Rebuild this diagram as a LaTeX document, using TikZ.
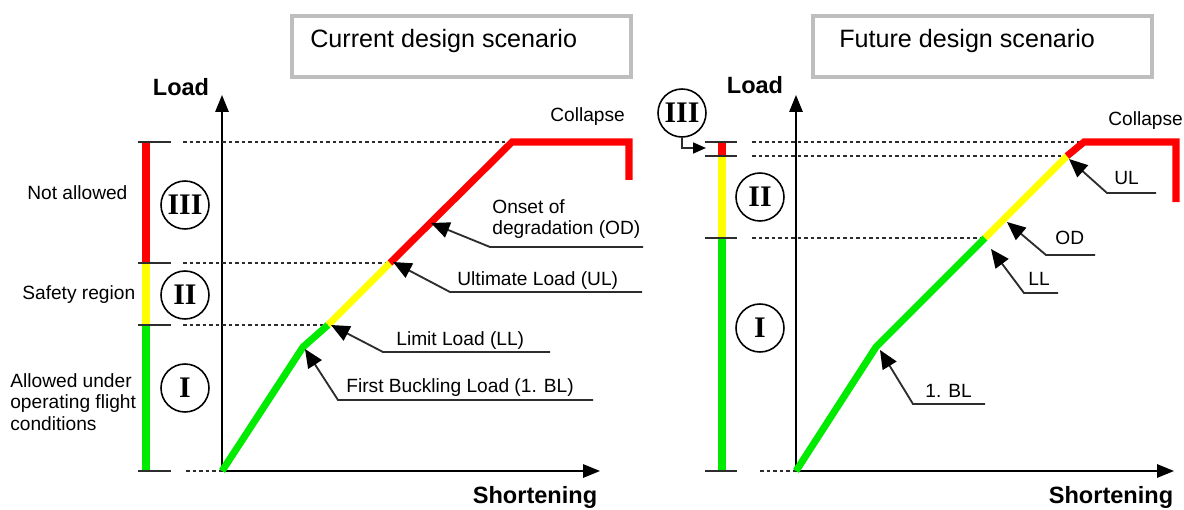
\documentclass[tikz,border=0pt]{standalone}
\usepackage{fontspec}
\setmainfont{Liberation Sans}
\newfontfamily\romfont{Liberation Serif}
\usetikzlibrary{arrows.meta}
\definecolor{cRed}{RGB}{255,0,0}
\definecolor{cYel}{RGB}{255,255,0}
\definecolor{cGrn}{RGB}{0,235,0}
\definecolor{boxgray}{RGB}{190,190,190}
\definecolor{dk}{RGB}{45,45,45}
\tikzset{
 lbl/.style={inner sep=0pt, font=\fontsize{10.9pt}{12.4pt}\selectfont, text=black},
 ttl/.style={inner sep=0pt, font=\fontsize{14.3pt}{16pt}\selectfont},
 axlbl/.style={inner sep=0pt, font=\fontsize{13.4pt}{15pt}\selectfont\bfseries},
 rom/.style={draw=black, line width=0.9pt, circle, minimum size=0.96cm, inner sep=0pt, font=\fontsize{17pt}{17pt}\romfont\bfseries},
 axisarr/.style={line width=0.85pt, black, -{Triangle[length=0.34cm,width=0.27cm]}},
 dline/.style={line width=0.7pt, dk, dash pattern=on 2.2pt off 1.5pt},
 tickmk/.style={line width=1.1pt, dk},
 barseg/.style={line width=4.4pt},
 curveseg/.style={line width=4pt, line join=round},
 callout/.style={line width=1.05pt, dk, -{Triangle[length=0.37cm,width=0.32cm,color=black]}},
 smallarr/.style={line width=0.9pt, dk, -{Triangle[length=0.26cm,width=0.22cm,color=black]}},
 tbox/.style={draw=boxgray, line width=2.2pt, minimum width=6.78cm, minimum height=1.22cm, inner sep=0pt},
}
\begin{document}
\begin{tikzpicture}[x=0.02cm, y=-0.02cm]
\useasboundingbox[fill=white] (0,0) rectangle (1184,510);

%================ LEFT PANEL =================
\node[tbox, anchor=north west] (box1) at (290,14) {};
\node[ttl, anchor=base west] (t1) at (310,48) {Current design scenario};

\coordinate (LO) at (222,471);
\coordinate (LYt) at (222,95);
\coordinate (LXt) at (600,471);
\draw[axisarr] (LO) -- (LYt);
\draw[axisarr] (LO) -- (LXt);
\node[axlbl] (loadL) at (181,87) {Load};
\node[axlbl] (shortL) at (535,497) {Shortening};

% curve points
\coordinate (L1) at (303,347);
\coordinate (L2) at (328,325);
\coordinate (L3) at (390,263);
\coordinate (L4) at (512,142);
\coordinate (L5) at (629,142);
\coordinate (L6) at (629,180);

% dashed guides
\coordinate (Ld0) at (183,142);
\coordinate (Ld1) at (183,263);
\coordinate (Ld2) at (183,325);
\coordinate (Ld3) at (186,471);
\draw[dline] (Ld0) -- (L4);
\draw[dline] (Ld1) -- (L3);
\draw[dline] (Ld2) -- (L2);
\draw[dline] (Ld3) -- (LO);

% bar
\coordinate (Lb0) at (146,142);
\coordinate (Lb1) at (146,263);
\coordinate (Lb2) at (146,325);
\coordinate (Lb3) at (146,471);
\draw[barseg, cRed] (Lb0) -- (Lb1);
\draw[barseg, cYel] (Lb1) -- (Lb2);
\draw[barseg, cGrn] (Lb2) -- (Lb3);
\foreach \yy in {142,263,325,471} \draw[tickmk] (138,\yy) -- (171,\yy);

% curve
\draw[curveseg, cGrn] (LO) -- (L1) -- (L2);
\draw[curveseg, cYel] (L2) -- (L3);
\draw[curveseg, cRed, line join=miter] (L3) -- (L4) -- (L5) -- (L6);

\node[lbl, anchor=west] (colL) at (550,117) {Collapse};

% circles
\node[rom] (c3L) at (185,205) {III};
\node[rom] (c2L) at (185,295) {II};
\node[rom] (c1L) at (185,388) {I};

% left texts
\node[lbl, anchor=west] (na) at (27,193) {Not allowed};
\node[lbl, anchor=west] (sr) at (22,295) {Safety region};
\node[lbl, anchor=west, align=left] (au) at (10,402) {Allowed under\\operating flight\\conditions};

% callouts
\node[lbl, anchor=west, align=left] (odT) at (492,219) {Onset of\\degradation (OD)};
\coordinate (odA) at (490,247);
\coordinate (odB) at (643,247);
\coordinate (odTip) at (431,223);
\draw[callout] (odB) -- (odA) -- (odTip);

\node[lbl, anchor=base west] (ulT) at (457,285) {Ultimate Load (UL)};
\coordinate (ulA) at (450,292);
\coordinate (ulB) at (642,292);
\coordinate (ulTip) at (393,262);
\draw[callout] (ulB) -- (ulA) -- (ulTip);

\node[lbl, anchor=base west] (llT) at (396,345) {Limit Load (LL)};
\coordinate (llA) at (383,352);
\coordinate (llB) at (550,352);
\coordinate (llTip) at (331,325);
\draw[callout] (llB) -- (llA) -- (llTip);

\node[lbl, anchor=base west] (blT) at (346,392) {First Buckling Load (1. BL)};
\coordinate (blA) at (338,400);
\coordinate (blB) at (593,400);
\coordinate (blTip) at (305,349);
\draw[callout] (blB) -- (blA) -- (blTip);

%================ RIGHT PANEL =================
\node[tbox, anchor=north west] (box2) at (811,14) {};
\node[ttl, anchor=base west] (t2) at (839,48) {Future design scenario};

\coordinate (RO) at (796,471);
\coordinate (RYt) at (796,95);
\coordinate (RXt) at (1174,471);
\draw[axisarr] (RO) -- (RYt);
\draw[axisarr] (RO) -- (RXt);
\node[axlbl] (loadR) at (755,85) {Load};
\node[axlbl] (shortR) at (1111,497) {Shortening};

\coordinate (R1) at (876,347);
\coordinate (R2) at (985,238);
\coordinate (R3) at (1067,156);
\coordinate (R4) at (1084,142);
\coordinate (R5) at (1176,142);
\coordinate (R6) at (1176,202);

\coordinate (Rd0) at (752,142);
\coordinate (Rd1) at (752,156);
\coordinate (Rd2) at (752,238);
\coordinate (Rd3) at (760,471);
\draw[dline] (Rd0) -- (R4);
\draw[dline] (Rd1) -- (R3);
\draw[dline] (Rd2) -- (R2);
\draw[dline] (Rd3) -- (RO);

\coordinate (Rb0) at (722,142);
\coordinate (Rb1) at (722,156);
\coordinate (Rb2) at (722,238);
\coordinate (Rb3) at (722,471);
\draw[barseg, cRed] (Rb0) -- (Rb1);
\draw[barseg, cYel] (Rb1) -- (Rb2);
\draw[barseg, cGrn] (Rb2) -- (Rb3);
\foreach \yy in {142,156,238,471} \draw[tickmk] (705,\yy) -- (737,\yy);

\draw[curveseg, cGrn] (RO) -- (R1) -- (R2);
\draw[curveseg, cYel] (R2) -- (R3);
\draw[curveseg, cRed, line join=miter] (R3) -- (R4) -- (R5) -- (R6);

\node[lbl, anchor=west] (colR) at (1108,121) {Collapse};

\node[rom] (c3R) at (682,113) {III};
\node[rom] (c2R) at (760,197) {II};
\node[rom] (c1R) at (760,328) {I};
\coordinate (r3tip) at (706,148);
\draw[smallarr] (c3R.south) |- (r3tip);

\node[lbl, anchor=base west] (ulRT) at (1114,185) {UL};
\coordinate (ulRA) at (1107,193);
\coordinate (ulRB) at (1156,193);
\coordinate (ulRTip) at (1069,159);
\draw[callout] (ulRB) -- (ulRA) -- (ulRTip);

\node[lbl, anchor=base west] (odRT) at (1055,244) {OD};
\coordinate (odRA) at (1046,255);
\coordinate (odRB) at (1095,255);
\coordinate (odRTip) at (1007,222);
\draw[callout] (odRB) -- (odRA) -- (odRTip);

\node[lbl, anchor=base west] (llRT) at (1028,285) {LL};
\coordinate (llRA) at (1024,293);
\coordinate (llRB) at (1058,293);
\coordinate (llRTip) at (991,249);
\draw[callout] (llRB) -- (llRA) -- (llRTip);

\node[lbl, anchor=base west] (blRT) at (925,397) {1. BL};
\coordinate (blRA) at (913,404);
\coordinate (blRB) at (985,404);
\coordinate (blRTip) at (880,350);
\draw[callout] (blRB) -- (blRA) -- (blRTip);
\end{tikzpicture}
\end{document}
